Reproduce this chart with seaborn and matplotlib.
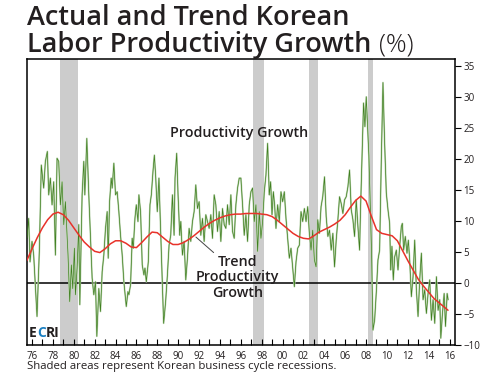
import matplotlib
matplotlib.use("Agg")
import matplotlib.pyplot as plt
import pandas as pd
import seaborn as sns

# actual productivity growth (%)
prod_years = [
    1975.52, 1975.68, 1975.81, 1976.00, 1976.16, 1976.48, 1976.70, 1976.89, 1977.12, 1977.28,
    1977.47, 1977.60, 1977.76, 1977.92, 1978.08, 1978.24, 1978.40, 1978.56, 1978.72, 1978.88,
    1979.04, 1979.20, 1979.45, 1979.61, 1979.77, 1979.90, 1980.06, 1980.16, 1980.32, 1980.48,
    1980.58, 1980.80, 1980.96, 1981.06, 1981.25, 1981.44, 1981.60, 1981.76, 1981.92, 1982.08,
    1982.21, 1982.40, 1982.56, 1982.72, 1982.88, 1983.04, 1983.20, 1983.30, 1983.43, 1983.59,
    1983.68, 1983.84, 1984.00, 1984.16, 1984.32, 1984.48, 1984.64, 1984.80, 1985.03, 1985.19,
    1985.28, 1985.44, 1985.60, 1985.70, 1985.86, 1985.99, 1986.15, 1986.24, 1986.40, 1986.56,
    1986.72, 1986.82, 1986.95, 1987.14, 1987.30, 1987.43, 1987.59, 1987.72, 1987.84, 1988.00,
    1988.16, 1988.32, 1988.48, 1988.61, 1988.80, 1988.97, 1989.13, 1989.29, 1989.45, 1989.61,
    1989.70, 1989.86, 1989.99, 1990.15, 1990.25, 1990.41, 1990.57, 1990.73, 1990.89, 1991.05,
    1991.21, 1991.37, 1991.53, 1991.69, 1991.85, 1992.01, 1992.17, 1992.33, 1992.49, 1992.65,
    1992.81, 1992.97, 1993.13, 1993.29, 1993.45, 1993.61, 1993.77, 1993.93, 1994.09, 1994.25,
    1994.41, 1994.57, 1994.73, 1994.89, 1995.05, 1995.21, 1995.37, 1995.53, 1995.69, 1995.85,
    1996.01, 1996.17, 1996.33, 1996.49, 1996.65, 1996.81, 1996.97, 1997.13, 1997.29, 1997.45,
    1997.61, 1997.77, 1997.93, 1998.09, 1998.25, 1998.41, 1998.57, 1998.73, 1998.86, 1998.99,
    1999.12, 1999.24, 1999.37, 1999.53, 1999.69, 1999.85, 2000.01, 2000.17, 2000.33, 2000.49,
    2000.65, 2000.81, 2000.97, 2001.13, 2001.29, 2001.45, 2001.61, 2001.77, 2001.93, 2002.09,
    2002.25, 2002.41, 2002.57, 2002.73, 2002.89, 2003.05, 2003.21, 2003.37, 2003.53, 2003.69,
    2003.85, 2004.02, 2004.18, 2004.34, 2004.50, 2004.66, 2004.82, 2004.98, 2005.14, 2005.30,
    2005.46, 2005.62, 2005.78, 2005.94, 2006.10, 2006.26, 2006.42, 2006.58, 2006.74, 2006.90,
    2007.06, 2007.22, 2007.38, 2007.47, 2007.60, 2007.76, 2007.89, 2008.02, 2008.15, 2008.27,
    2008.40, 2008.53, 2008.66, 2008.82, 2008.98, 2009.14, 2009.30, 2009.46, 2009.62, 2009.78,
    2009.94, 2010.10, 2010.26, 2010.36, 2010.48, 2010.61, 2010.74, 2010.90, 2011.06, 2011.22,
    2011.38, 2011.48, 2011.60, 2011.76, 2011.92, 2012.05, 2012.18, 2012.34, 2012.50, 2012.66,
    2012.82, 2012.98, 2013.14, 2013.30, 2013.46, 2013.62, 2013.78, 2013.94, 2014.10, 2014.26,
    2014.42, 2014.58, 2014.74, 2014.90, 2015.06, 2015.16, 2015.32, 2015.48, 2015.61, 2015.77,
    2015.86,
]
prod_values = [
    7.2, 10.4, 3.4, 6.7, 4.5, -5.4, 5.1, 19.0, 15.3, 19.6,
    21.2, 14.2, 16.9, 12.6, 16.3, 4.5, 20.1, 19.6, 12.6, 16.3,
    9.4, 13.1, 4.5, -3.0, 2.9, -0.9, 5.6, -1.9, 2.4, 9.4,
    -3.5, 14.2, 19.6, 14.2, 23.3, 14.2, 7.7, 0.8, -1.9, 0.2,
    -8.6, -0.9, -4.6, 1.8, 4.5, 8.8, 11.5, 4.0, 13.1, 16.9,
    15.3, 19.3, 14.2, 14.7, 11.5, 7.7, 4.5, 0.2, -3.8, -1.4,
    -1.9, -0.3, 7.2, 5.6, 10.4, 12.6, 9.9, 14.2, 11.5, 2.9,
    1.3, 2.4, 0.2, 3.4, 12.6, 14.2, 18.0, 20.6, 17.4, 11.5,
    16.9, 8.8, 0.2, -6.5, -3.0, 1.3, 6.1, 7.7, 14.2, 7.7,
    16.9, 20.9, 14.2, 7.7, 9.9, 4.5, 6.7, 0.5, 4.0, 8.8,
    6.7, 9.9, 11.5, 15.8, 12.0, 13.1, 7.7, 10.4, 6.7, 11.0,
    9.9, 8.8, 11.0, 7.2, 14.2, 12.6, 8.3, 11.5, 6.7, 12.0,
    9.4, 8.8, 12.6, 9.4, 14.2, 8.3, 7.2, 12.6, 15.3, 16.9,
    16.9, 12.6, 7.7, 11.0, 6.7, 12.6, 14.7, 15.3, 9.9, 12.6,
    5.1, 11.5, 7.2, 9.9, 14.7, 17.4, 22.5, 14.2, 16.3, 11.0,
    14.7, 12.6, 8.8, 12.6, 9.9, 14.7, 13.1, 14.7, 10.4, 7.2,
    4.0, 5.6, 2.4, -0.6, 3.4, 5.6, 6.1, 11.5, 9.9, 12.0,
    9.9, 12.3, 8.0, 5.3, 8.5, 3.7, 2.6, 10.2, 8.0, 12.3,
    13.9, 17.1, 10.7, 7.5, 8.5, 5.3, 8.0, 2.6, 6.9, 10.2,
    13.9, 12.8, 11.2, 13.4, 13.9, 15.5, 18.2, 11.8, 10.2, 7.5,
    13.4, 9.1, 5.3, 11.8, 19.8, 29.0, 25.2, 30.0, 25.2, 20.5,
    12.8, 4.8, -7.6, -6.0, -1.5, 3.7, 5.3, 19.8, 32.3, 22.5,
    14.5, 11.8, 9.6, 2.1, 5.9, 0.5, 4.2, 5.3, 2.1, 5.9,
    9.1, 9.6, 5.3, 7.5, 4.8, 6.9, 3.7, -2.2, 1.0, 6.9,
    -1.1, -5.4, 0.5, 4.8, -2.7, -1.1, -4.9, -1.7, 0.5, -6.0,
    -2.7, -6.5, 1.0, -4.4, -2.7, -8.9, -4.9, -1.7, -7.0, -1.7,
    -2.7,
]

# trend productivity growth (%)
trend_years = [
    1975.5, 1976.0, 1976.5, 1977.0, 1977.5, 1978.0, 1978.5, 1979.0, 1979.5, 1980.0,
    1980.5, 1981.0, 1981.5, 1982.0, 1982.5, 1983.0, 1983.5, 1984.0, 1984.5, 1985.0,
    1985.5, 1986.0, 1986.5, 1987.0, 1987.5, 1988.0, 1988.5, 1989.0, 1989.5, 1990.0,
    1990.5, 1991.0, 1991.5, 1992.0, 1992.5, 1993.0, 1993.5, 1994.0, 1994.5, 1995.0,
    1995.5, 1996.0, 1996.5, 1997.0, 1997.5, 1998.0, 1998.5, 1999.0, 1999.5, 2000.0,
    2000.5, 2001.0, 2001.5, 2002.0, 2002.5, 2003.0, 2003.5, 2004.0, 2004.5, 2005.0,
    2005.5, 2006.0, 2006.5, 2007.0, 2007.5, 2008.0, 2008.5, 2009.0, 2009.5, 2010.0,
    2010.5, 2011.0, 2011.5, 2012.0, 2012.5, 2013.0, 2013.5, 2014.0, 2014.5, 2015.0,
    2015.5, 2015.85,
]
trend_values = [
    3.6, 5.5, 7.3, 8.9, 10.2, 11.1, 11.4, 11.0, 10.1, 8.9,
    7.7, 6.6, 5.8, 5.1, 4.9, 5.5, 6.3, 6.8, 6.8, 6.4,
    5.8, 5.7, 6.5, 7.4, 8.2, 8.1, 7.4, 6.7, 6.2, 6.2,
    6.5, 7.0, 7.6, 8.3, 9.0, 9.6, 10.1, 10.5, 10.8, 11.0,
    11.1, 11.1, 11.2, 11.2, 11.2, 11.1, 11.0, 10.7, 10.1, 9.4,
    8.7, 8.0, 7.5, 7.2, 7.1, 7.6, 8.2, 8.6, 9.0, 9.5,
    10.1, 11.0, 12.2, 13.3, 14.0, 13.2, 10.8, 8.6, 8.0, 7.8,
    7.6, 6.8, 5.2, 3.6, 2.1, 0.6, -0.5, -1.5, -2.5, -3.2,
    -3.9, -4.4,
]

recession_starts = [1978.72, 1997.17, 2002.55, 2008.21]
recession_ends = [1980.45, 1998.20, 2003.40, 2008.67]

year_ticks = list(range(1976, 2017, 2))
year_labels = ["76", "78", "80", "82", "84", "86", "88", "90", "92", "94", "96",
               "98", "00", "02", "04", "06", "08", "10", "12", "14", "16"]
value_ticks = [-10, -5, 0, 5, 10, 15, 20, 25, 30, 35]

DARK = "#231f20"
FONT = ["Open Sans", "DejaVu Sans"]
W, H = 495, 375


def fx(px):
    return px / W


def fy(py):
    return 1 - py / H


def fit_width(fig, text, target_px):
    fig.canvas.draw()
    bb = text.get_window_extent()
    text.set_fontsize(text.get_fontsize() * target_px / bb.width)
    fig.canvas.draw()
    return text.get_window_extent()


def main():
    sns.set_theme(style="white")
    plt.rcParams["font.family"] = FONT

    prod = pd.DataFrame({"year": prod_years, "growth": prod_values})
    trend = pd.DataFrame({"year": trend_years, "growth": trend_values})

    fig = plt.figure(figsize=(4.95, 3.75), dpi=100)
    ax = fig.add_axes([fx(27), fy(345), fx(455) - fx(27), fy(59) - fy(345)])

    for s, e in zip(recession_starts, recession_ends):
        ax.axvspan(s, e, color="#cccccc", lw=0, zorder=0)
    ax.axhline(0, color="black", lw=1.1, zorder=1)

    sns.lineplot(data=prod, x="year", y="growth", ax=ax, color="#bfd6b4",
                 lw=1.3, estimator=None, zorder=2)
    sns.lineplot(data=prod, x="year", y="growth", ax=ax, color="#3f7f1f",
                 lw=0.5, estimator=None, zorder=3)
    sns.lineplot(data=trend, x="year", y="growth", ax=ax, color="#e8322a",
                 lw=1.1, estimator=None, zorder=4)

    ax.set_xlim(1975.52, 2016.52)
    ax.set_ylim(-10, 36.1)
    ax.set_xlabel("")
    ax.set_ylabel("")
    ax.set_xticks(year_ticks)
    ax.set_xticklabels(year_labels)
    ax.set_xticks(range(1976, 2017), minor=True)
    ax.tick_params(axis="x", which="both", direction="in", length=4, width=0.8,
                   color="black", bottom=True, labelsize=7, labelcolor=DARK, pad=4)
    ax.yaxis.tick_right()
    ax.set_yticks(value_ticks)
    ax.tick_params(axis="y", direction="out", length=4, width=0.8, color="black",
                   right=True, labelsize=7, labelcolor=DARK, pad=2)
    for sp in ax.spines.values():
        sp.set_visible(True)
        sp.set_color("black")
        sp.set_linewidth(1.1)

    lab = dict(color=DARK, fontsize=10.3, fontweight="semibold", ha="center", va="center")
    ax.text(1995.8, 24.2, "Productivity Growth", **lab)
    ax.text(1995.7, 0.9, "Trend\nProductivity\nGrowth", linespacing=1.15, **lab)
    ax.annotate("", xy=(1991.5, 7.7), xytext=(1993.6, 4.6),
                arrowprops=dict(arrowstyle="-", color="#444444", lw=0.7))

    # title
    size = 19.5
    fig.text(fx(27), fy(25), "Actual and Trend Korean", fontsize=size,
             fontweight="semibold", color=DARK, va="baseline")
    t2 = fig.text(fx(27), fy(52), "Labor Productivity Growth", fontsize=size,
                  fontweight="semibold", color=DARK, va="baseline")
    fig.canvas.draw()
    bb = t2.get_window_extent()
    fig.text(fx(bb.x1 + 8), fy(52), "(%)", fontsize=size * 0.95,
             fontweight="light", color=DARK, va="baseline")

    # ECRI logo
    x = 29
    for part, col in [("E", DARK), ("C", "#1a7fc1"), ("RI", DARK)]:
        t = fig.text(fx(x), fy(337), part, fontsize=10, fontweight="bold",
                     color=col, va="baseline")
        fig.canvas.draw()
        x = t.get_window_extent().x1

    note = fig.text(fx(27), fy(369), "Shaded areas represent Korean business cycle recessions.",
                    fontsize=8, color=DARK, va="baseline")
    fit_width(fig, note, 338 - 27)

    fig.savefig("out.png", dpi=100)


if __name__ == "__main__":
    main()
